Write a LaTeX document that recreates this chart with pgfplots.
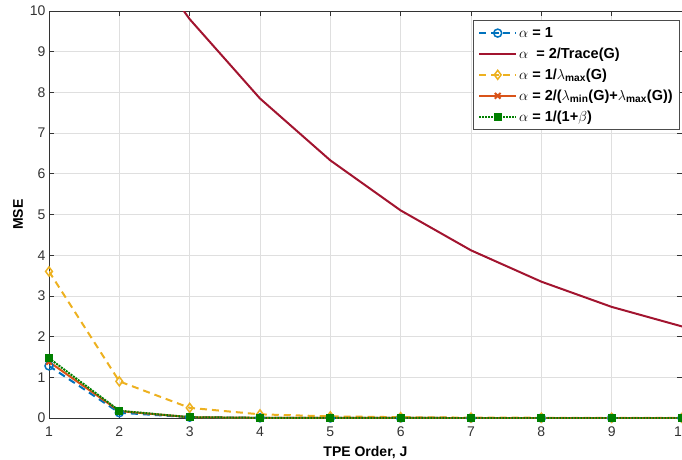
\documentclass[border=0pt]{standalone}
\usepackage{amsmath}
\usepackage{fontspec}
\setmainfont{Liberation Sans}
\usepackage{pgfplots}
\pgfplotsset{compat=1.18}
\definecolor{mblue}{rgb}{0,0.447,0.741}
\definecolor{mred}{rgb}{0.635,0.078,0.184}
\definecolor{myellow}{rgb}{0.929,0.694,0.125}
\definecolor{morange}{rgb}{0.85,0.325,0.098}
\definecolor{mgreen}{rgb}{0,0.5,0}
\begin{document}
\begin{tikzpicture}[x=1pt,y=1pt]
\begin{axis}[
  scale only axis, width=633pt, height=407pt,
  xmin=1, xmax=10, ymin=0, ymax=10,
  xtick={1,...,10}, ytick={0,...,10},
  grid=major, grid style={gray!25, line width=0.8pt},
  tick align=inside, major tick length=5pt,
  axis line style={black!80, line width=0.8pt},
  tick style={black!80, line width=0.8pt},
  every tick label/.append style={font=\fontsize{14}{16}\selectfont, text=black!80},
  xticklabel style={yshift=-5pt},
  /pgf/number format/assume math mode=true,
  xlabel={\textbf{TPE Order, J}}, ylabel={\textbf{MSE}},
  label style={font=\fontsize{14}{16}\selectfont},
  xlabel style={yshift=-3pt},
  ylabel style={yshift=0pt},
  legend style={at={(0.997,0.978)}, anchor=north east, font=\fontsize{14.5}{16}\selectfont\bfseries,
    draw=black!70, line width=0.8pt, row sep=5pt, inner xsep=5pt, inner ysep=5pt},
  legend cell align=left,
  legend image code/.code={\draw[mark repeat=2,mark phase=2] plot coordinates {(0cm,0cm)(0.65cm,0cm)(1.3cm,0cm)};},
  clip=true,
]
\addplot[color=mblue, line width=2pt, dash pattern=on 7pt off 5pt, mark=o, mark size=4pt, mark options={solid, line width=1.5pt}]
 coordinates {(1,1.28)(2,0.13)(3,0.02)(4,0.004)(5,0.001)(6,0.0003)(7,0.0001)(8,0.0001)(9,0.0001)(10,0.0001)};
\addlegendentry{$\alpha$ = 1}
\addplot[color=mred, line width=2pt]
 coordinates {(1,15.2)(2,12.2)(3,9.8)(4,7.85)(5,6.33)(6,5.10)(7,4.12)(8,3.35)(9,2.73)(10,2.25)};
\addlegendentry{$\alpha$\ \ = 2/Trace(G)}
\addplot[color=myellow, line width=2pt, dash pattern=on 7pt off 5pt, mark=diamond, mark size=4.5pt, mark options={solid, line width=1.5pt}]
 coordinates {(1,3.6)(2,0.9)(3,0.25)(4,0.09)(5,0.04)(6,0.02)(7,0.01)(8,0.006)(9,0.004)(10,0.003)};
\addlegendentry{$\alpha$ = 1/$\lambda_{\text{max}}$(G)}
\addplot[color=morange, line width=2pt, mark=x, mark size=4pt, mark options={solid, line width=2pt}]
 coordinates {(1,1.38)(2,0.17)(3,0.02)(4,0.004)(5,0.001)(6,0.0003)(7,0.0001)(8,0.0001)(9,0.0001)(10,0.0001)};
\addlegendentry{$\alpha$ = 2/($\lambda_{\text{min}}$(G)+$\lambda_{\text{max}}$(G))}
\addplot[color=mgreen, line width=2pt, densely dotted, mark=square*, mark size=3.5pt, mark options={solid, fill=mgreen, line width=0.8pt}]
 coordinates {(1,1.47)(2,0.18)(3,0.02)(4,0.004)(5,0.001)(6,0.0003)(7,0.0001)(8,0.0001)(9,0.0001)(10,0.0001)};
\addlegendentry{$\alpha$ = 1/(1+$\beta$)}
\end{axis}
\pgfresetboundingbox
\path (-49pt,-41pt) rectangle (633pt,418pt);
\end{tikzpicture}
\end{document}
